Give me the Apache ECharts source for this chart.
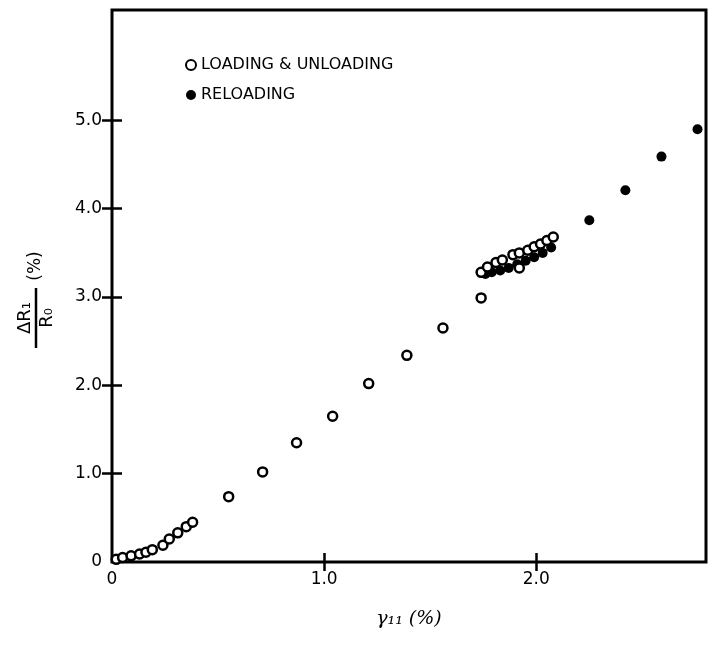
<!DOCTYPE html>
<html>
<head>
<meta charset="utf-8">
<script src="https://cdn.jsdelivr.net/npm/echarts@6/dist/echarts.min.js"></script>
<style>html,body{margin:0;padding:0;background:#fff}#c{width:723px;height:648px}</style>
</head>
<body>
<div id="c"></div>
<script>
// Open circles: loading & unloading
var loadX = [0.02,0.05,0.09,0.13,0.16,0.19,0.24,0.27,0.31,0.35,0.38,
             0.55,0.71,0.87,1.04,1.21,1.39,1.56,1.74,
             1.74,1.77,1.81,1.84,1.89,1.92,1.96,1.99,2.02,2.05,2.08,
             1.92];
var loadY = [0.03,0.05,0.07,0.09,0.11,0.14,0.19,0.26,0.33,0.40,0.45,
             0.74,1.02,1.35,1.65,2.02,2.34,2.65,2.99,
             3.28,3.34,3.39,3.42,3.48,3.50,3.53,3.57,3.60,3.64,3.68,
             3.33];
// Filled circles: reloading
var reloadX = [1.76,1.79,1.83,1.87,1.91,1.95,1.99,2.03,2.07,2.25,2.42,2.59,2.76];
var reloadY = [3.26,3.28,3.30,3.33,3.37,3.41,3.45,3.50,3.56,3.87,4.21,4.59,4.90];
var xTicks = [0,1,2];
var yTicks = [0,1,2,3,4,5];

function pairs(a,b){return a.map(function(v,i){return [v,b[i]];});}
function fmt(v){ if(v===0) return '0'; return v.toFixed(1); }

var FONT = 'DejaVu Sans';
var chart = echarts.init(document.getElementById('c'));
chart.setOption({
  animation:false,
  backgroundColor:'#fff',
  grid:{left:112,right:17,top:10,bottom:86,show:true,borderColor:'#000',borderWidth:3,backgroundColor:'transparent'},
  legend:{
    orient:'vertical',left:180,top:52,itemGap:14,itemWidth:10,itemHeight:10,
    textStyle:{fontFamily:FONT,fontSize:16,color:'#000'},
    data:[{name:'LOADING & UNLOADING',icon:'circle'},{name:'RELOADING',icon:'circle'}]
  },
  xAxis:[{
    type:'value',min:0,max:2.8,interval:1,
    axisLine:{show:false},splitLine:{show:false},
    axisTick:{show:true,inside:true,length:9,lineStyle:{color:'#000',width:2.5},customValues:[1,2]},
    axisLabel:{customValues:xTicks,formatter:fmt,fontFamily:FONT,fontSize:17,color:'#000',margin:9},
    name:'γ₁₁ (%)',nameLocation:'middle',nameGap:48,
    nameTextStyle:{fontFamily:'DejaVu Serif',fontStyle:'italic',fontSize:19,color:'#000'}
  },{
    type:'value',position:'top',min:0,max:2.8,interval:1,
    axisLine:{show:false},splitLine:{show:false},
    axisTick:{show:true,inside:true,length:9,lineStyle:{color:'#000',width:2.5},customValues:[1,2]},
    axisLabel:{show:false}
  }],
  yAxis:[{
    type:'value',min:0,max:6.25,interval:1,
    axisLine:{show:false},splitLine:{show:false},
    axisTick:{show:true,inside:true,length:10,lineStyle:{color:'#000',width:2.5},customValues:[1,2,3,4,5]},
    axisLabel:{customValues:yTicks,formatter:fmt,fontFamily:FONT,fontSize:17,color:'#000',margin:10}
  },{
    type:'value',position:'right',min:0,max:6.25,interval:1,
    axisLine:{show:false},splitLine:{show:false},
    axisTick:{show:true,inside:true,length:10,lineStyle:{color:'#000',width:2.5},customValues:[1,2,3,4,5]},
    axisLabel:{show:false}
  }],
  graphic:[{
    type:'group',x:36,y:318,rotation:Math.PI/2,
    children:[
      {type:'text',x:0,y:-11,style:{text:'ΔR₁',fontFamily:FONT,fontSize:18,fill:'#000',align:'center',verticalAlign:'middle'}},
      {type:'line',shape:{x1:-30,y1:0,x2:30,y2:0},style:{stroke:'#000',lineWidth:2.5}},
      {type:'text',x:0,y:11,style:{text:'R₀',fontFamily:FONT,fontSize:18,fill:'#000',align:'center',verticalAlign:'middle'}},
      {type:'text',x:52,y:0,style:{text:'(%)',fontFamily:FONT,fontSize:17,fill:'#000',align:'center',verticalAlign:'middle'}}
    ]
  }],
  series:[{
    name:'LOADING & UNLOADING',type:'scatter',xAxisIndex:0,yAxisIndex:0,
    symbol:'circle',symbolSize:9,
    itemStyle:{color:'#fff',borderColor:'#000',borderWidth:2.5,opacity:1},
    emphasis:{disabled:true},
    data:pairs(loadX,loadY),z:3
  },{
    name:'RELOADING',type:'scatter',xAxisIndex:0,yAxisIndex:0,
    symbol:'circle',symbolSize:10,
    itemStyle:{color:'#000',borderColor:'#000',borderWidth:0,opacity:1},
    emphasis:{disabled:true},
    data:pairs(reloadX,reloadY),z:2
  }]
});
</script>
</body>
</html>
